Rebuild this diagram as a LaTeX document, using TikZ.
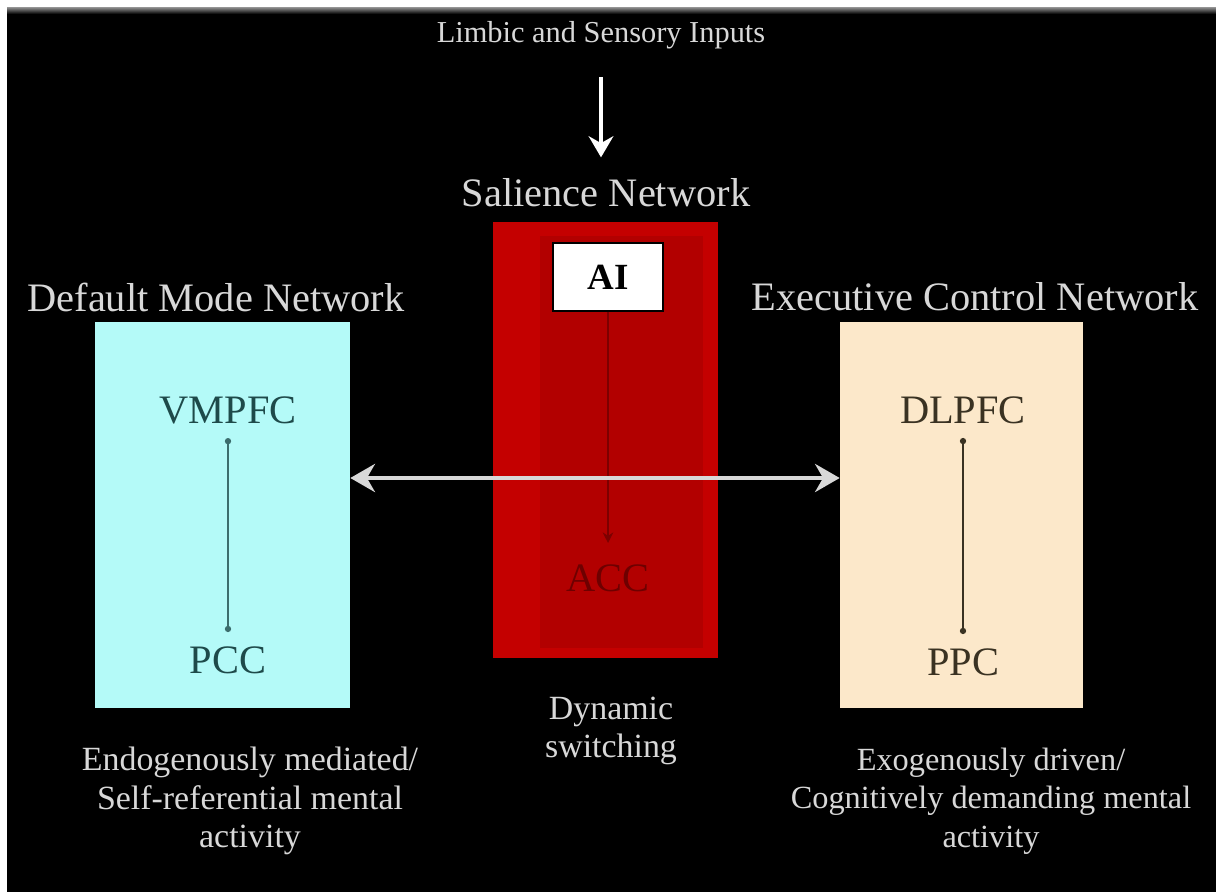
\documentclass[tikz,border=0pt]{standalone}
\usepackage{fontspec}
\setmainfont{Liberation Serif}
\usetikzlibrary{arrows.meta,calc}
\definecolor{dmnfill}{HTML}{B4FAF8}
\definecolor{ecnfill}{HTML}{FCE8CA}
\definecolor{snout}{HTML}{C40000}
\definecolor{snin}{HTML}{B20000}
\definecolor{dmntext}{HTML}{1E4A4A}
\definecolor{ecntext}{HTML}{3A3222}
\definecolor{acctext}{HTML}{6E0000}
\definecolor{lbl}{HTML}{D8D8D8}
\tikzset{
  title/.style={text=lbl, font=\fontsize{23}{27}\selectfont, inner sep=0pt},
  note/.style={text=lbl, font=\fontsize{19.3}{22}\selectfont, align=center, inner sep=0pt},
  region/.style={font=\fontsize{23}{27}\selectfont, inner sep=0pt},
  inner/.style={line width=1.2pt, {Circle[length=3.5pt]}-{Circle[length=3.5pt]}, shorten <=8pt, shorten >=8pt},
  bigarrow/.style={draw=lbl, line width=2.8pt, {Stealth[length=14pt,width=16pt]}-{Stealth[length=14pt,width=16pt]}},
  inarrow/.style={draw=white, line width=2pt, -{Stealth[length=12pt,width=14pt]}},
}
\begin{document}
\begin{tikzpicture}[x=0.02cm, y=-0.02cm]
\useasboundingbox (0,0) rectangle (1216,892);
\fill[white] (0,0) rectangle (1216,892);
\fill[black] (7,9) rectangle (1216,892);
\shade[top color=gray, bottom color=black] (7,8) rectangle (1216,14);

% top input
\node[text=lbl, font=\fontsize{17.3}{20}\selectfont, inner sep=0pt] (limbic) at (601,35) {Limbic and Sensory Inputs};
\node[title] (salience) at (606,193) {Salience Network};
\draw[inarrow, shorten <=16pt, shorten >=12pt] (limbic.south) -- (limbic.south |- salience.north);

% salience network box
\node[fill=snout, minimum width=4.5cm, minimum height=8.72cm, inner sep=0pt] (sn) at (605.5,440) {};
\fill[snin] (540,236) rectangle (703,648);
\node[fill=white, draw=black, line width=1pt, minimum width=2.2cm, minimum height=1.35cm, inner sep=0pt, font=\bfseries\fontsize{21}{24}\selectfont] (ai) at (608,277) {AI};
\node[region, text=acctext] (acc) at (608,578) {ACC};
\draw[draw=acctext!80!snin, line width=1.2pt, -{Stealth[length=6pt,width=6pt]}, shorten >=12pt] (ai.south) -- (acc.north);

% default mode network
\node[title] (dmnt) at (216,297) {Default Mode Network};
\node[fill=dmnfill, minimum width=5.1cm, minimum height=7.72cm, inner sep=0pt] (dmn) at (222.5,515) {};
\node[region, text=dmntext] (vmpfc) at (228,410) {VMPFC};
\node[region, text=dmntext] (pcc) at (228,660) {PCC};
\draw[inner, draw=dmntext!80!dmnfill] (vmpfc.south) -- (pcc.north);

% executive control network
\node[title] (ecnt) at (975,297) {Executive Control Network};
\node[fill=ecnfill, minimum width=4.86cm, minimum height=7.72cm, inner sep=0pt] (ecn) at (961.5,515) {};
\node[region, text=ecntext] (dlpfc) at (963,410) {DLPFC};
\node[region, text=ecntext] (ppc) at (963,662) {PPC};
\draw[inner, draw=ecntext] (dlpfc.south) -- (ppc.north);

% switching arrow
\coordinate (sw) at (605,478);
\draw[bigarrow] (sw -| dmn.east) -- (sw -| ecn.west);

% notes
\node[note] (dyn) at (611,731) {Dynamic\\switching};
\node[note] (dmnnote) at (250,801) {Endogenously mediated/\\Self-referential mental\\activity};
\node[note, font=\fontsize{18.4}{22}\selectfont] (ecnnote) at (991,801) {Exogenously driven/\\Cognitively demanding mental\\activity};
\end{tikzpicture}
\end{document}
